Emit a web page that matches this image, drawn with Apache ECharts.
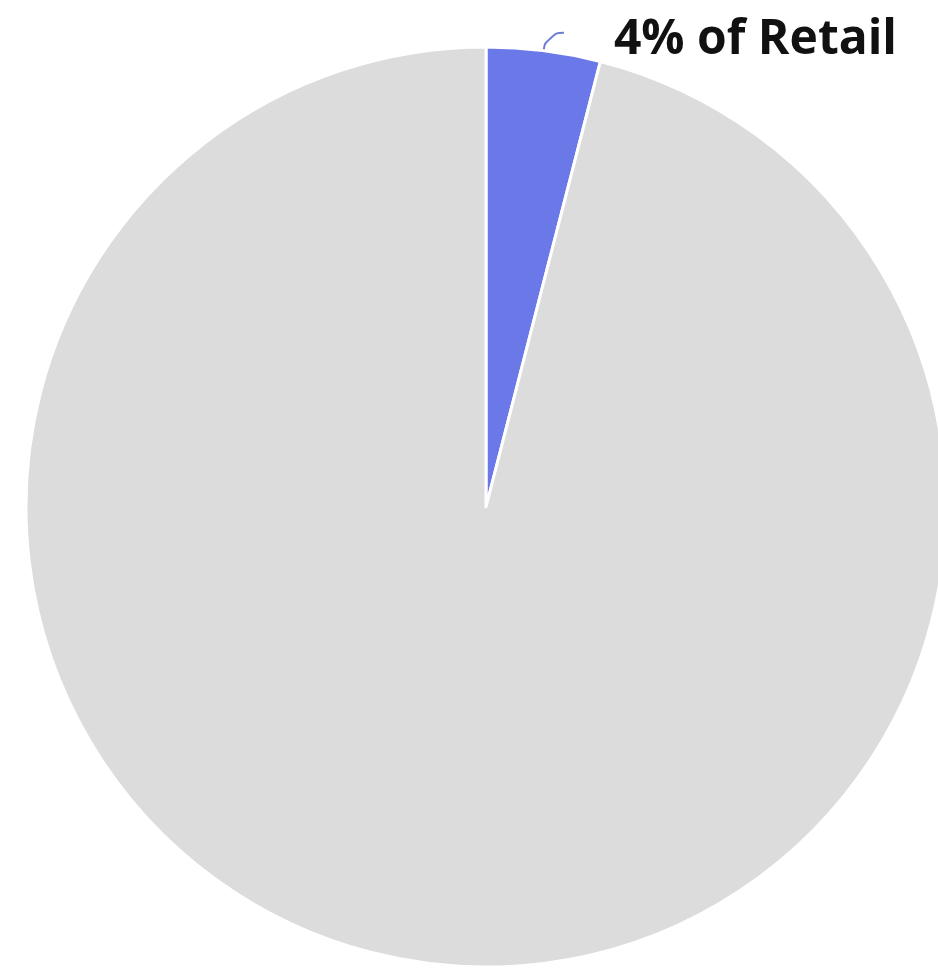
<!DOCTYPE html>
<html>
<head>
<meta charset="utf-8">
<script src="https://cdn.jsdelivr.net/npm/echarts@6/dist/echarts.min.js"></script>
<style>
  html, body { margin: 0; padding: 0; background: #ffffff; }
  #chart { width: 938px; height: 974px; }
</style>
</head>
<body>
<div id="chart"></div>
<script>
// Share of retail: highlighted slice vs. the rest
const categories = ['Retail', 'Other'];
const shares = [4, 96];
const sliceColors = ['#6b79e8', '#dcdcdc'];

const chart = echarts.init(document.getElementById('chart'), null, { renderer: 'canvas' });

const data = categories.map((name, i) => ({
  name: name,
  value: shares[i],
  itemStyle: { color: sliceColors[i] },
  label: i === 0 ? { show: true } : { show: false },
  labelLine: i === 0 ? { show: true } : { show: false }
}));

chart.setOption({
  animation: false,
  series: [{
    type: 'pie',
    center: [486, 507],
    radius: 460,
    startAngle: 90,
    clockwise: true,
    avoidLabelOverlap: false,
    itemStyle: { borderColor: '#ffffff', borderWidth: 3 },
    label: {
      position: 'outside',
      formatter: p => p.value + '% of ' + p.name,
      fontFamily: 'Open Sans',
      fontWeight: 'bold',
      fontSize: 48,
      color: '#111111',
      padding: [0, 0, 0, 45]
    },
    // nudge the text down a little so it sits beside the end of the leader
    labelLayout: { dy: 8 },
    labelLine: {
      length: 18,
      length2: 18,
      smooth: 0.6,
      lineStyle: { color: '#6f7cd6', width: 2 }
    },
    emphasis: { disabled: true },
    data: data
  }]
});
</script>
</body>
</html>
